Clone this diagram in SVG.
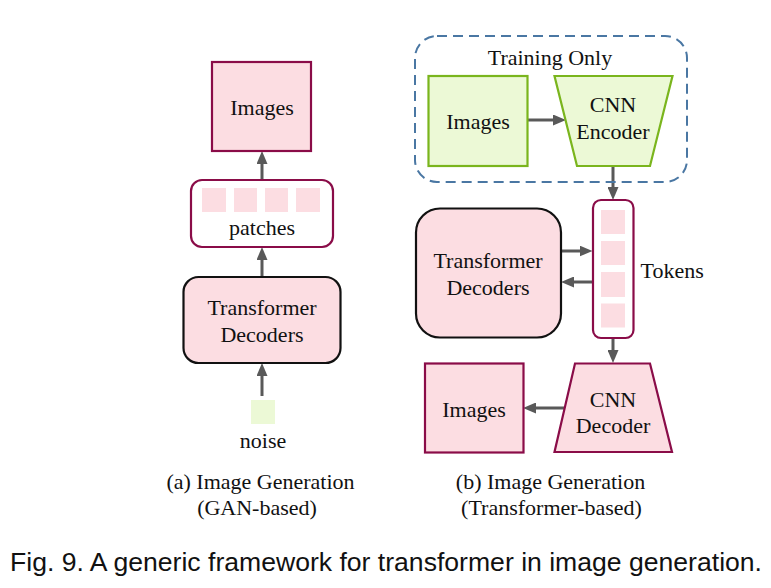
<svg xmlns="http://www.w3.org/2000/svg" width="771" height="588" viewBox="0 0 771 588">
<defs>
<style>
.t{font-family:"Liberation Serif","Times New Roman",serif;font-size:22px;fill:#111;text-anchor:middle}
.pk{fill:#fcdde2;stroke:#8a0c48;stroke-width:2.2}
.gr{fill:#ecf9d6;stroke:#7ab51d;stroke-width:2.2}
.bk{fill:#fcdde2;stroke:#111;stroke-width:2.2}
.wh{fill:#fff;stroke:#8a0c48;stroke-width:2.2}
.sq{fill:#fcdde2;stroke:none}
.c{fill:none;stroke:#595959;stroke-width:3;marker-end:url(#ah)}
</style>
<marker id="ah" markerUnits="userSpaceOnUse" viewBox="0 0 13 11" refX="5" refY="5.5" markerWidth="13" markerHeight="11" orient="auto">
<path d="M0,0 L13,5.5 L0,11 z" fill="#595959"/>
</marker>
</defs>
<rect width="771" height="588" fill="#fff"/>

<g id="connectors">
<path class="c" d="M262,396 V371"/>
<path class="c" d="M262,277 V255"/>
<path class="c" d="M262,180 V159"/>
<path class="c" d="M527,120 H558"/>
<path class="c" d="M613,166 V192"/>
<path class="c" d="M561,251 H584.5"/>
<path class="c" d="M592.5,282 H569"/>
<path class="c" d="M613,338 V355"/>
<path class="c" d="M566,408 H531"/>
</g>

<g id="a-images">
<rect class="pk" x="212" y="62" width="99" height="89"/>
<text class="t" x="262" y="114.5">Images</text>
</g>
<g id="a-patches">
<rect class="wh" x="191" y="180" width="142" height="67" rx="11"/>
<rect class="sq" x="202" y="188" width="24" height="24"/>
<rect class="sq" x="234" y="188" width="23" height="24"/>
<rect class="sq" x="265" y="188" width="23" height="24"/>
<rect class="sq" x="296" y="188" width="24" height="24"/>
<text class="t" x="262" y="235">patches</text>
</g>
<g id="a-transformer">
<rect class="bk" x="183.5" y="277" width="157" height="86" rx="15"/>
<text class="t" x="262" y="315">Transformer</text>
<text class="t" x="262" y="341.5">Decoders</text>
</g>
<g id="a-noise">
<rect x="251" y="400" width="24" height="24" fill="#ecf9d6"/>
<text class="t" x="263" y="448">noise</text>
</g>

<g id="b-training">
<rect x="415" y="36" width="272" height="146" rx="22" fill="none" stroke="#4a77a3" stroke-width="2" stroke-dasharray="10 6"/>
<text class="t" x="550" y="64.5">Training Only</text>
</g>
<g id="b-images-in">
<rect class="gr" x="428.5" y="76" width="99" height="90"/>
<text class="t" x="478" y="128.5">Images</text>
</g>
<g id="b-encoder">
<polygon class="gr" points="554.5,76 672.5,76 650,166 577,166"/>
<text class="t" x="613" y="111.5">CNN</text>
<text class="t" x="613" y="138.5">Encoder</text>
</g>
<g id="b-transformer">
<rect class="bk" x="416" y="208.5" width="145" height="129" rx="24"/>
<text class="t" x="488" y="267.5">Transformer</text>
<text class="t" x="488" y="294.5">Decoders</text>
</g>
<g id="b-tokens">
<rect class="wh" x="593" y="200" width="40.5" height="138" rx="8"/>
<rect class="sq" x="601" y="210" width="24" height="24"/>
<rect class="sq" x="601" y="241" width="24" height="24"/>
<rect class="sq" x="601" y="272" width="24" height="25"/>
<rect class="sq" x="601" y="303.5" width="24" height="24"/>
<text class="t" x="640.5" y="277.5" style="text-anchor:start">Tokens</text>
</g>
<g id="b-decoder">
<polygon class="pk" points="575,363.5 650,363.5 672,452 554.5,452"/>
<text class="t" x="613" y="406.5">CNN</text>
<text class="t" x="613" y="432.5">Decoder</text>
</g>
<g id="b-images-out">
<rect class="pk" x="425" y="363.5" width="98.5" height="89"/>
<text class="t" x="474" y="416.5">Images</text>
</g>

<g id="captions">
<text class="t" x="260.5" y="488.5">(a) Image Generation</text>
<text class="t" x="257" y="515">(GAN-based)</text>
<text class="t" x="550.5" y="488.5">(b) Image Generation</text>
<text class="t" x="551.5" y="515">(Transformer-based)</text>
<text x="10" y="571" font-family="'Liberation Sans',Arial,sans-serif" font-size="26.5" fill="#111" textLength="752" lengthAdjust="spacingAndGlyphs">Fig. 9. A generic framework for transformer in image generation.</text>
</g>
</svg>
